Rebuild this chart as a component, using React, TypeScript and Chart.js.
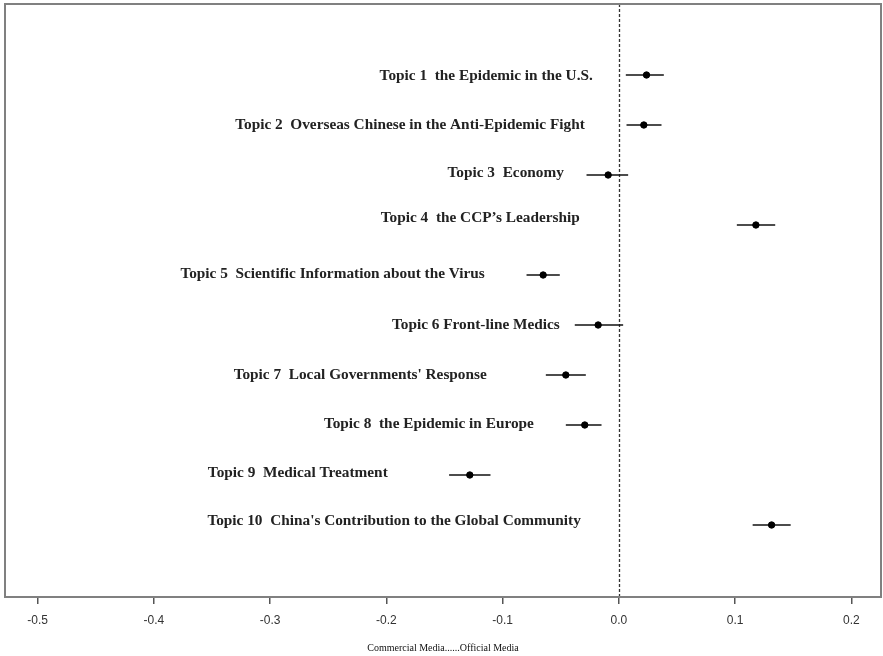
import React, { useEffect, useRef } from "react";
import { Chart, registerables } from "chart.js";

Chart.register(...registerables);

const topics = [
  "Topic 1  the Epidemic in the U.S.",
  "Topic 2  Overseas Chinese in the Anti-Epidemic Fight",
  "Topic 3  Economy",
  "Topic 4  the CCP\u2019s Leadership",
  "Topic 5  Scientific Information about the Virus",
  "Topic 6 Front-line Medics",
  "Topic 7  Local Governments' Response",
  "Topic 8  the Epidemic in Europe",
  "Topic 9  Medical Treatment",
  "Topic 10  China's Contribution to the Global Community",
];

const estimates = [0.0238, 0.0215, -0.0092, 0.1179, -0.0651, -0.0178, -0.0456, -0.0293, -0.1282, 0.1314];
const lower = [0.006, 0.0066, -0.0278, 0.1015, -0.0794, -0.0379, -0.0628, -0.0456, -0.146, 0.1151];
const upper = [0.0387, 0.0367, 0.008, 0.1345, -0.0508, 0.0037, -0.0284, -0.0149, -0.1104, 0.1478];

// where each label's text ends (in effect units) and which row it sits on
const labelEnd = [-0.0224, -0.0293, -0.0473, -0.0336, -0.1153, -0.0508, -0.1136, -0.0731, -0.1988, -0.0327];
const labelRow = [1.02, 2.0, 2.96, 3.87, 4.98, 6.0, 7.0, 7.98, 8.96, 9.92];

const xTicks = [-0.5, -0.4, -0.3, -0.2, -0.1, 0.0, 0.1, 0.2];
const xTitle = "Commercial Media......Official Media";

const forestPlugin = {
  id: "forest",
  beforeDatasetsDraw(chart: any) {
    const { ctx, chartArea, scales } = chart;
    const x = scales.x;
    const y = scales.y;
    ctx.save();
    // zero reference line
    ctx.setLineDash([3, 2]);
    ctx.strokeStyle = "#333";
    ctx.lineWidth = 1.3;
    const x0 = Math.round(x.getPixelForValue(0)) + 0.5;
    ctx.beginPath();
    ctx.moveTo(x0, chartArea.top);
    ctx.lineTo(x0, chartArea.bottom);
    ctx.stroke();
    ctx.setLineDash([]);
    // interval bars
    ctx.strokeStyle = "#111";
    ctx.lineWidth = 1.5;
    lower.forEach((lo, i) => {
      const py = y.getPixelForValue(i + 1);
      ctx.beginPath();
      ctx.moveTo(x.getPixelForValue(lo), py);
      ctx.lineTo(x.getPixelForValue(upper[i]), py);
      ctx.stroke();
    });
    // topic labels
    ctx.font = 'bold 15.3px "Liberation Serif"';
    ctx.fillStyle = "#222";
    ctx.textAlign = "right";
    ctx.textBaseline = "middle";
    topics.forEach((t, i) => {
      ctx.fillText(t, x.getPixelForValue(labelEnd[i]), y.getPixelForValue(labelRow[i]));
    });
    ctx.restore();
  },
  afterDraw(chart: any) {
    const { ctx, chartArea } = chart;
    ctx.save();
    ctx.strokeStyle = "#808080";
    ctx.lineWidth = 2;
    ctx.strokeRect(chartArea.left, chartArea.top, chartArea.right - chartArea.left, chartArea.bottom - chartArea.top);
    ctx.restore();
  },
};

export default function App() {
  const canvasRef = useRef<HTMLCanvasElement | null>(null);

  useEffect(() => {
    if (!canvasRef.current) return;
    const chart = new Chart(canvasRef.current, {
      type: "scatter",
      data: {
        datasets: [
          {
            data: estimates.map((v, i) => ({ x: v, y: i + 1 })),
            backgroundColor: "#000",
            borderColor: "#000",
            pointRadius: 3.2,
            pointHoverRadius: 3.2,
          },
        ],
      },
      options: {
        animation: false,
        responsive: true,
        maintainAspectRatio: false,
        events: [],
        layout: { autoPadding: false, padding: { left: 5, right: 2, top: 4, bottom: 0 } },
        plugins: {
          legend: { display: false },
          tooltip: { enabled: false },
        },
        scales: {
          x: {
            type: "linear",
            min: -0.528,
            max: 0.2255,
            afterBuildTicks: (s: any) => {
              s.ticks = xTicks.map((v) => ({ value: v }));
            },
            afterFit: (s: any) => {
              s.height = 59;
              s.paddingLeft = 0;
              s.paddingRight = 0;
            },
            border: { display: false },
            grid: {
              display: true,
              drawOnChartArea: false,
              drawTicks: true,
              tickLength: 7,
              color: "#555",
              lineWidth: 1.5,
            },
            ticks: {
              padding: 9,
              maxRotation: 0,
              autoSkip: false,
              color: "#333",
              font: { family: '"Liberation Sans", Arial, sans-serif', size: 12 },
              callback: (v: any) => Number(v).toFixed(1),
            },
            title: {
              display: true,
              text: xTitle,
              color: "#111",
              font: { family: '"Liberation Serif", serif', size: 10 },
              padding: { top: 0, bottom: 2 },
            },
          },
          y: {
            type: "linear",
            display: false,
            reverse: true,
            min: -0.42,
            max: 11.44,
          },
        },
      },
      plugins: [forestPlugin],
    });
    return () => chart.destroy();
  }, []);

  return (
    <div style={{ position: "fixed", left: 0, top: 0, width: 883, height: 656, background: "#fff" }}>
      <canvas ref={canvasRef} />
    </div>
  );
}
